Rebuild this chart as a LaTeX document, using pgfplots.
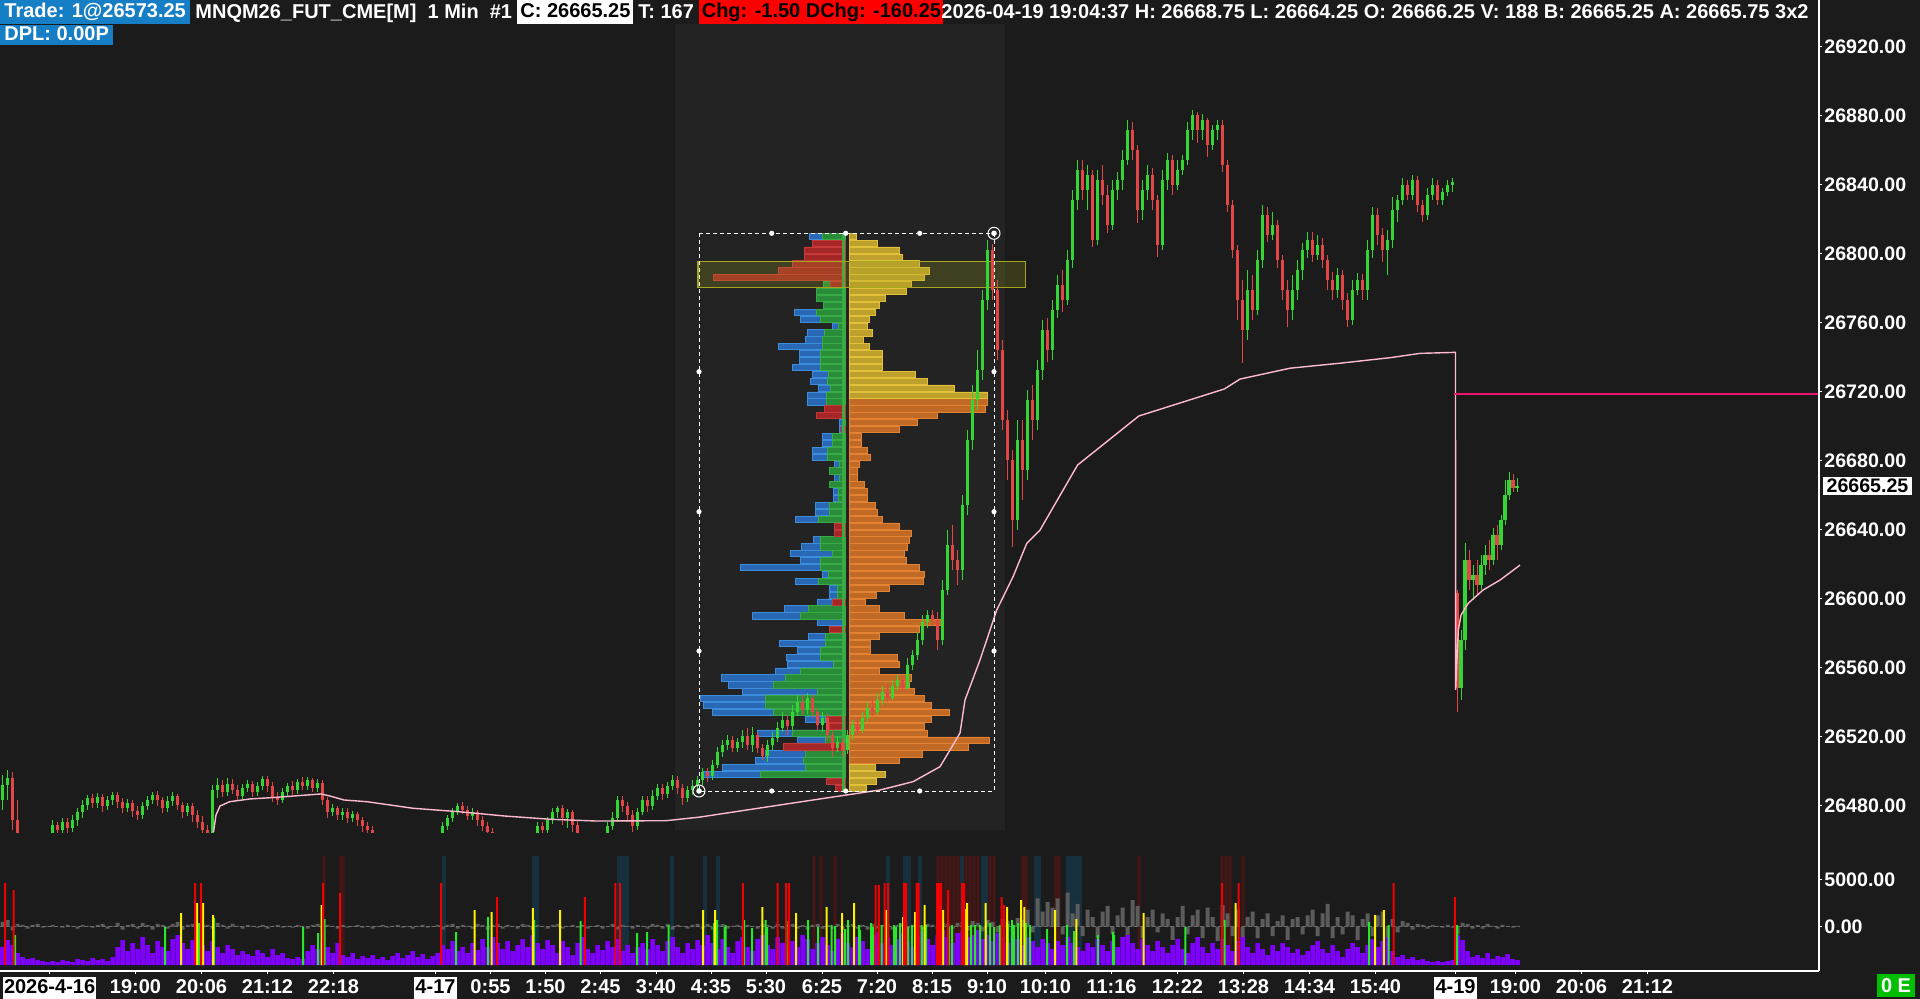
\documentclass[border=0pt]{standalone}
\usepackage{fontspec}
\setmainfont{Liberation Sans}
\usepackage{pgfplots}
\usepackage{pgfplotstable}
\pgfplotsset{compat=1.18}

\definecolor{bg}{RGB}{27,27,27}
\definecolor{shd}{RGB}{35,35,35}
\definecolor{cup}{RGB}{52,214,52}
\definecolor{cdn}{RGB}{226,70,70}
\definecolor{vwap}{RGB}{255,186,208}
\definecolor{prior}{RGB}{238,20,112}
\definecolor{pyel}{RGB}{190,160,44}
\definecolor{pyelL}{RGB}{226,192,58}
\definecolor{pora}{RGB}{192,106,38}
\definecolor{poraL}{RGB}{228,130,52}
\definecolor{pblu}{RGB}{40,104,180}
\definecolor{pbluL}{RGB}{62,140,220}
\definecolor{pgrn}{RGB}{40,140,56}
\definecolor{pgrnL}{RGB}{56,170,70}
\definecolor{pred}{RGB}{165,38,38}
\definecolor{predL}{RGB}{200,56,56}
\definecolor{vpur}{RGB}{128,0,255}
\definecolor{sred}{RGB}{240,0,0}
\definecolor{syel}{RGB}{255,240,0}
\definecolor{sgrn}{RGB}{40,230,40}
\definecolor{bred}{RGB}{68,22,22}
\definecolor{bteal}{RGB}{22,48,62}
\definecolor{dgray}{RGB}{92,92,92}
\definecolor{zgray}{RGB}{105,105,105}
\definecolor{hblue}{RGB}{22,126,196}
\definecolor{hred}{RGB}{255,0,0}
\definecolor{olive}{RGB}{165,165,30}
\definecolor{egreen}{RGB}{0,190,0}

\newcommand\lab{\bfseries\fontsize{10}{12}\selectfont}
\newcommand\plab{\bfseries\fontsize{9.8}{11}\selectfont}
\newcommand\dbox[1]{{\setlength\fboxsep{0.6pt}\colorbox{white}{\textcolor{black}{\rule[-2.4pt]{0pt}{9.8pt}#1}}}}
\newcommand\pfmt{\pgfmathprintnumber[fixed,fixed zerofill,precision=2,1000 sep={},assume math mode=true]{\tick}}

\pgfplotsset{
  pane/.style={scale only axis, width=909.5pt, xmin=0, xmax=1819,
    axis line style={draw=none}, xtick=\empty, ytick=\empty,
    scaled x ticks=false, scaled y ticks=false},
}
\tikzset{hdr/.style={anchor=north west, inner ysep=0.6pt, text height=8.2pt, text depth=2.4pt, font=\lab}}

% 1-min chart, aggregated to 5 px candles: x o h l c
\pgfplotstableread{
x o h l c
2.5 26483.2 26497.7 26477.4 26491.9
7.5 26491.9 26500.6 26483.2 26495.9
12.5 26495.9 26499.4 26465.8 26471.6
17.5 26471.6 26483.2 26454.2 26457.1
52.5 26462.9 26471.6 26460.0 26468.7
57.5 26468.7 26470.4 26461.2 26465.8
62.5 26465.8 26472.7 26462.9 26470.4
67.5 26470.4 26472.7 26463.5 26466.9
72.5 26466.9 26474.5 26464.6 26471.6
77.5 26471.6 26478.5 26468.1 26476.2
82.5 26476.2 26483.2 26472.7 26480.3
87.5 26480.3 26486.1 26477.4 26484.3
92.5 26484.3 26486.7 26478.5 26481.4
97.5 26481.4 26487.2 26478.5 26484.9
102.5 26484.9 26486.7 26476.2 26479.7
107.5 26479.7 26485.5 26477.4 26483.2
112.5 26483.2 26487.8 26480.3 26486.1
117.5 26486.1 26487.8 26478.5 26482.0
122.5 26482.0 26484.3 26475.6 26478.5
127.5 26478.5 26483.8 26476.2 26481.4
132.5 26481.4 26483.2 26473.3 26476.8
137.5 26476.8 26479.7 26471.6 26474.5
142.5 26474.5 26482.0 26472.2 26479.7
147.5 26479.7 26485.5 26477.4 26483.2
152.5 26483.2 26487.8 26480.9 26486.1
157.5 26486.1 26488.4 26479.7 26483.2
162.5 26483.2 26484.9 26475.6 26478.5
167.5 26478.5 26485.5 26476.2 26482.6
172.5 26482.6 26487.8 26479.7 26485.5
177.5 26485.5 26486.7 26477.4 26480.3
182.5 26480.3 26482.0 26472.7 26476.2
187.5 26476.2 26481.4 26473.9 26479.7
192.5 26479.7 26481.4 26470.4 26474.5
197.5 26474.5 26477.4 26466.9 26470.4
202.5 26470.4 26473.9 26461.2 26465.8
207.5 26465.8 26468.7 26454.2 26457.1
212.5 26457.1 26491.9 26454.2 26489.0
217.5 26489.0 26495.9 26484.3 26491.9
222.5 26491.9 26494.8 26484.9 26487.8
227.5 26487.8 26495.9 26485.5 26492.5
232.5 26492.5 26495.4 26486.7 26489.0
237.5 26489.0 26491.9 26483.2 26485.5
242.5 26485.5 26492.5 26483.8 26490.1
247.5 26490.1 26494.8 26487.8 26492.5
252.5 26492.5 26494.2 26484.9 26487.8
257.5 26487.8 26493.6 26485.5 26491.3
262.5 26491.3 26497.1 26489.0 26495.4
267.5 26495.4 26497.1 26487.8 26491.3
272.5 26491.3 26493.6 26482.0 26484.9
277.5 26484.9 26487.8 26480.3 26483.2
282.5 26483.2 26490.1 26481.4 26487.8
287.5 26487.8 26493.0 26485.5 26491.3
292.5 26491.3 26494.2 26486.1 26489.0
297.5 26489.0 26495.4 26486.7 26493.6
302.5 26493.6 26496.5 26489.0 26491.3
307.5 26491.3 26496.5 26489.0 26494.8
312.5 26494.8 26495.9 26487.8 26490.1
317.5 26490.1 26495.4 26487.8 26493.0
322.5 26493.0 26494.8 26480.3 26483.2
327.5 26483.2 26484.9 26472.7 26476.2
332.5 26476.2 26480.9 26473.9 26478.5
337.5 26478.5 26479.7 26471.6 26474.5
342.5 26474.5 26478.5 26471.6 26476.2
347.5 26476.2 26478.5 26469.8 26472.7
352.5 26472.7 26476.8 26470.4 26475.1
357.5 26475.1 26476.2 26468.1 26471.6
362.5 26471.6 26473.3 26464.6 26468.1
367.5 26468.1 26470.4 26462.3 26465.8
372.5 26465.8 26468.1 26458.8 26461.2
442.5 26462.9 26470.4 26461.2 26468.1
447.5 26468.1 26474.5 26465.8 26472.7
452.5 26472.7 26478.5 26470.4 26476.2
457.5 26476.2 26481.4 26474.5 26479.7
462.5 26479.7 26482.0 26475.1 26477.4
467.5 26477.4 26479.7 26471.6 26473.9
472.5 26473.9 26478.5 26471.6 26476.2
477.5 26476.2 26477.4 26468.1 26471.6
482.5 26471.6 26473.9 26465.2 26468.1
487.5 26468.1 26470.4 26461.2 26464.6
492.5 26464.6 26466.9 26457.1 26460.0
537.5 26462.9 26470.4 26461.2 26468.1
542.5 26468.1 26470.4 26462.9 26465.8
547.5 26465.8 26473.3 26463.5 26471.6
552.5 26471.6 26478.5 26469.3 26476.2
557.5 26476.2 26479.7 26472.7 26478.5
562.5 26478.5 26480.3 26468.7 26472.7
567.5 26472.7 26478.0 26466.9 26476.2
572.5 26476.2 26477.4 26464.6 26468.7
577.5 26468.7 26471.6 26460.0 26462.3
607.5 26462.9 26470.4 26460.0 26468.1
612.5 26468.1 26476.2 26465.8 26472.7
617.5 26472.7 26485.5 26470.4 26483.2
622.5 26483.2 26485.5 26476.2 26479.7
627.5 26479.7 26482.0 26470.4 26474.5
632.5 26474.5 26477.4 26464.6 26468.1
637.5 26468.1 26478.5 26465.8 26476.2
642.5 26476.2 26485.5 26474.5 26483.2
647.5 26483.2 26485.5 26476.2 26479.7
652.5 26479.7 26489.0 26477.4 26485.5
657.5 26485.5 26492.5 26483.2 26490.1
662.5 26490.1 26492.5 26483.2 26486.7
667.5 26486.7 26493.6 26484.3 26491.3
672.5 26491.3 26497.7 26489.0 26494.8
677.5 26494.8 26497.1 26486.7 26490.1
682.5 26490.1 26492.5 26480.3 26484.3
687.5 26484.3 26491.3 26482.0 26489.0
692.5 26489.0 26494.8 26486.1 26491.3
697.5 26491.3 26497.1 26489.0 26494.8
702.5 26494.8 26501.7 26491.9 26499.4
707.5 26499.4 26501.7 26493.6 26497.1
712.5 26497.1 26506.4 26494.8 26503.5
717.5 26503.5 26513.9 26501.7 26511.0
722.5 26511.0 26518.0 26508.1 26515.1
727.5 26515.1 26520.9 26512.2 26518.0
732.5 26518.0 26520.3 26511.0 26513.3
737.5 26513.3 26519.1 26511.0 26516.8
742.5 26516.8 26523.8 26513.3 26520.3
747.5 26520.3 26524.9 26512.2 26515.1
752.5 26515.1 26525.5 26511.0 26520.9
757.5 26520.9 26522.6 26510.4 26513.3
762.5 26513.3 26515.6 26506.4 26508.7
767.5 26508.7 26518.0 26505.2 26515.1
772.5 26515.1 26522.6 26512.2 26519.1
777.5 26519.1 26528.4 26516.8 26524.9
782.5 26524.9 26534.2 26522.6 26529.6
787.5 26529.6 26532.5 26520.9 26526.1
792.5 26526.1 26538.3 26523.8 26534.2
797.5 26534.2 26544.1 26531.9 26540.0
802.5 26540.0 26544.1 26532.5 26535.4
807.5 26535.4 26545.2 26533.1 26542.3
812.5 26542.3 26544.1 26530.7 26534.2
817.5 26534.2 26536.5 26523.8 26526.7
822.5 26526.7 26534.2 26522.6 26530.7
827.5 26530.7 26533.1 26518.0 26520.9
832.5 26520.9 26523.8 26508.1 26513.3
837.5 26513.3 26520.3 26511.0 26516.8
842.5 26516.8 26519.1 26508.1 26512.2
847.5 26512.2 26523.8 26509.8 26520.9
852.5 26520.9 26529.6 26518.0 26526.7
857.5 26526.7 26530.7 26520.9 26523.8
862.5 26523.8 26534.2 26522.0 26530.7
867.5 26530.7 26540.0 26528.4 26536.5
872.5 26536.5 26541.2 26531.9 26534.2
877.5 26534.2 26545.2 26532.5 26541.2
882.5 26541.2 26549.3 26538.3 26545.8
887.5 26545.8 26550.4 26540.0 26542.3
892.5 26542.3 26552.8 26541.2 26549.3
897.5 26549.3 26555.7 26547.0 26552.8
902.5 26552.8 26555.1 26545.8 26548.1
907.5 26548.1 26565.5 26547.0 26561.5
912.5 26561.5 26570.1 26558.6 26567.3
917.5 26567.3 26580.6 26564.4 26575.9
922.5 26575.9 26590.4 26573.0 26586.4
927.5 26586.4 26593.3 26582.9 26590.4
932.5 26590.4 26593.3 26584.0 26587.5
937.5 26587.5 26592.2 26570.1 26575.9
942.5 26575.9 26610.7 26573.0 26604.9
947.5 26604.9 26639.7 26602.0 26631.0
952.5 26631.0 26642.6 26616.5 26622.3
957.5 26622.3 26628.1 26607.8 26616.5
962.5 26616.5 26660.0 26610.7 26654.2
967.5 26654.2 26697.7 26648.4 26691.9
972.5 26691.9 26723.8 26686.1 26715.1
977.5 26715.1 26744.1 26709.3 26732.5
982.5 26732.5 26778.8 26726.7 26773.0
987.5 26773.0 26807.8 26767.2 26802.0
992.5 26802.0 26805.5 26773.0 26778.8
997.5 26778.8 26784.6 26738.3 26744.1
1002.5 26744.1 26749.9 26697.7 26703.5
1007.5 26703.5 26709.3 26668.7 26680.3
1012.5 26680.3 26686.1 26629.9 26645.5
1017.5 26645.5 26703.5 26639.7 26691.9
1022.5 26691.9 26703.5 26657.1 26674.5
1027.5 26674.5 26720.9 26668.7 26715.1
1032.5 26715.1 26723.8 26691.9 26703.5
1037.5 26703.5 26738.3 26697.7 26732.5
1042.5 26732.5 26761.4 26726.7 26755.7
1047.5 26755.7 26762.6 26737.1 26744.1
1052.5 26744.1 26773.0 26738.3 26767.2
1057.5 26767.2 26787.5 26762.6 26781.7
1062.5 26781.7 26790.4 26766.1 26773.0
1067.5 26773.0 26802.0 26770.1 26796.2
1072.5 26796.2 26836.8 26791.6 26831.0
1077.5 26831.0 26854.2 26825.2 26848.4
1082.5 26848.4 26854.2 26831.0 26836.8
1087.5 26836.8 26851.3 26825.2 26845.5
1092.5 26845.5 26848.4 26803.8 26807.8
1097.5 26807.8 26848.4 26804.9 26842.6
1102.5 26842.6 26851.3 26828.1 26833.9
1107.5 26833.9 26839.7 26811.9 26816.5
1112.5 26816.5 26842.6 26813.6 26836.8
1117.5 26836.8 26847.2 26831.0 26842.6
1122.5 26842.6 26860.0 26836.8 26854.2
1127.5 26854.2 26877.4 26851.3 26871.6
1132.5 26871.6 26876.2 26854.2 26860.0
1137.5 26860.0 26862.9 26817.7 26825.2
1142.5 26825.2 26842.6 26819.4 26836.8
1147.5 26836.8 26851.3 26831.0 26845.5
1152.5 26845.5 26849.6 26825.2 26831.0
1157.5 26831.0 26833.9 26797.9 26804.9
1162.5 26804.9 26848.4 26802.0 26842.6
1167.5 26842.6 26858.3 26836.8 26854.2
1172.5 26854.2 26857.1 26833.9 26839.7
1177.5 26839.7 26854.2 26836.8 26848.4
1182.5 26848.4 26857.1 26845.5 26854.2
1187.5 26854.2 26876.2 26851.3 26871.6
1192.5 26871.6 26883.2 26865.8 26880.3
1197.5 26880.3 26882.0 26864.1 26871.6
1202.5 26871.6 26880.9 26865.8 26877.4
1207.5 26877.4 26878.6 26856.0 26862.9
1212.5 26862.9 26874.5 26860.0 26871.6
1217.5 26871.6 26877.4 26865.8 26874.5
1222.5 26874.5 26877.4 26847.2 26851.3
1227.5 26851.3 26854.2 26824.1 26828.1
1232.5 26828.1 26831.0 26797.4 26802.0
1237.5 26802.0 26804.9 26761.4 26773.0
1242.5 26773.0 26784.6 26736.5 26755.7
1247.5 26755.7 26790.4 26749.9 26778.8
1252.5 26778.8 26787.5 26761.4 26767.2
1257.5 26767.2 26802.0 26764.4 26796.2
1262.5 26796.2 26828.1 26791.6 26822.3
1267.5 26822.3 26826.9 26806.7 26810.7
1272.5 26810.7 26824.1 26807.8 26816.5
1277.5 26816.5 26819.4 26791.6 26796.2
1282.5 26796.2 26799.1 26773.0 26778.8
1287.5 26778.8 26784.6 26757.4 26767.2
1292.5 26767.2 26787.5 26761.4 26778.8
1297.5 26778.8 26796.2 26773.0 26790.4
1302.5 26790.4 26806.1 26784.6 26802.0
1307.5 26802.0 26812.5 26797.4 26807.8
1312.5 26807.8 26812.5 26795.1 26799.1
1317.5 26799.1 26810.7 26796.2 26804.9
1322.5 26804.9 26809.0 26791.6 26796.2
1327.5 26796.2 26799.1 26778.8 26784.6
1332.5 26784.6 26789.3 26773.0 26778.8
1337.5 26778.8 26791.6 26774.2 26787.5
1342.5 26787.5 26790.4 26767.2 26773.0
1347.5 26773.0 26777.1 26757.4 26761.4
1352.5 26761.4 26784.6 26758.6 26778.8
1357.5 26778.8 26788.7 26775.9 26784.6
1362.5 26784.6 26788.1 26773.0 26778.8
1367.5 26778.8 26807.8 26773.0 26802.0
1372.5 26802.0 26826.9 26797.4 26822.3
1377.5 26822.3 26826.4 26804.9 26810.7
1382.5 26810.7 26814.8 26795.1 26802.0
1387.5 26802.0 26813.6 26787.5 26807.8
1392.5 26807.8 26832.8 26803.2 26825.2
1397.5 26825.2 26833.9 26818.3 26831.0
1402.5 26831.0 26843.8 26828.1 26839.7
1407.5 26839.7 26842.6 26831.0 26833.9
1412.5 26833.9 26845.5 26831.0 26842.6
1417.5 26842.6 26844.9 26824.1 26828.1
1422.5 26828.1 26831.0 26818.3 26822.3
1427.5 26822.3 26838.0 26819.4 26833.9
1432.5 26833.9 26843.8 26831.0 26839.7
1437.5 26839.7 26842.6 26828.1 26831.0
1442.5 26831.0 26838.0 26828.1 26835.6
1447.5 26835.6 26842.6 26833.3 26839.7
1452.5 26839.7 26843.8 26835.6 26841.4
1457 26603.2 26604.9 26534.2 26548.1
1461 26548.1 26581.7 26541.2 26575.9
1465 26575.9 26632.2 26570.1 26622.3
1469 26622.3 26628.1 26604.9 26610.7
1473 26610.7 26619.4 26599.1 26613.6
1477 26613.6 26622.3 26602.0 26607.8
1481 26607.8 26625.2 26604.9 26619.4
1485 26619.4 26631.0 26613.6 26625.2
1489 26625.2 26633.9 26616.5 26622.3
1493 26622.3 26640.9 26619.4 26636.8
1497 26636.8 26642.6 26622.3 26631.0
1501 26631.0 26648.4 26628.1 26645.5
1505 26645.5 26668.7 26642.6 26660.0
1509 26660.0 26673.3 26657.1 26668.7
1513 26668.7 26672.2 26661.7 26664.0
1517 26664.0 26669.9 26661.7 26665.25
}\candles

\pgfplotstableread{
x p
213.5 26464.6
216 26474.5
220 26479.7
229.6 26482.2
250 26483.8
275.5 26484.7
321 26486.7
330 26485.5
344 26483.2
367 26482.2
413 26478.4
459 26476.4
505 26473.9
551 26472.0
597 26471.0
666 26471.2
700 26473.3
746.7 26477.4
813 26483.2
880 26489.0
913 26493.8
940 26502.5
950 26512.2
960 26522.0
965 26541.2
970 26548.9
980 26564.4
996.7 26593.3
1013 26612.6
1026.7 26631.9
1040 26639.7
1077.6 26677.4
1138.8 26705.8
1224.5 26721.5
1240 26727.2
1290 26733.5
1340 26736.4
1390 26739.6
1420 26742.1
1455.5 26742.7
1455.6 26547.0
1458.3 26581.7
1461 26590.4
1468.3 26597.3
1483 26604.9
1500 26610.7
1506.7 26613.6
1520 26619.4
}\vwap

% volume profile, 4 point rows (widths in px)
\pgfplotstableread{
p w
26490 17
26494 27
26498 36
26502 26
26718 138
26722 105
26726 78
26730 66
26734 33
26738 33
26742 33
26746 20
26750 14
26754 23
26758 18
26762 20
26766 26
26770 30
26774 36
26778 57
26782 62
26786 75
26790 80
26794 70
26798 53
26802 50
26806 28
26810 7
}\profY

\pgfplotstableread{
p w
26506 50
26510 73
26514 119
26518 140
26522 78
26526 75
26530 82
26534 100
26538 82
26542 75
26546 65
26550 60
26554 62
26558 30
26562 50
26566 48
26570 21
26574 21
26578 30
26582 70
26586 92
26590 55
26594 30
26598 16
26602 27
26606 40
26610 74
26614 75
26618 70
26622 57
26626 55
26630 58
26634 60
26638 62
26642 50
26646 33
26650 28
26654 26
26658 18
26662 18
26666 15
26670 8
26674 8
26678 10
26682 21
26686 18
26690 12
26694 12
26698 50
26702 68
26706 88
26710 136
26714 138
}\profO

\pgfplotstableread{
p b g
26498 142 85
26502 123 40
26506 90 42
26510 80 40
26518 48 20
26522 88 53
26530 40 20
26534 133 72
26538 142 80
26542 145 80
26546 103 28
26550 117 72
26554 124 60
26558 70 45
26562 58 12
26566 59 25
26570 48 25
26574 66 20
26578 37 20
26582 5 0
26586 28 0
26590 93 45
26594 61 37
26598 28 0
26602 16 8
26606 16 8
26610 50 27
26614 23 17
26618 105 25
26622 45 25
26626 55 13
26630 44 25
26634 32 25
26646 50 27
26650 30 16
26654 30 16
26658 12 7
26662 12 7
26666 12 16
26670 11 6
26674 11 16
26678 11 6
26682 33 18
26686 33 18
26690 23 13
26694 23 13
26698 6 0
26702 6 0
26714 38 19
26718 38 19
26722 27 15
26726 35 18
26730 33 17
26734 53 25
26738 46 25
26742 46 25
26746 67 23
26750 40 23
26754 38 21
26758 13 7
26762 45 25
26766 51 29
26770 7 22
26774 0 29
26778 0 29
26782 0 22
26810 36 23
}\profBG

\pgfplotstableread{
p r
26490 10
26494 19
26514 62
26526 16
26530 19
26582 16
26598 13
26638 11
26642 11
26698 4
26706 29
26710 21
26782 15
26786 132
26790 67
26794 53
26798 41
26802 41
26806 33
}\profR

% lower pane: v = volume, d = delta
\pgfplotstableread{
x v d
2.5 180 500
7.5 250 700
12.5 200 -400
17.5 120 300
22.5 80 200
27.5 60 -200
32.5 70 200
37.5 50 300
42.5 40 -100
47.5 30 100
52.5 40 200
57.5 30 0
62.5 50 -100
67.5 40 200
72.5 30 100
77.5 60 -200
82.5 50 200
87.5 40 100
92.5 70 -100
97.5 50 200
102.5 60 300
107.5 40 -200
112.5 80 100
117.5 180 400
122.5 250 -300
127.5 140 200
132.5 220 300
137.5 160 -200
142.5 280 400
147.5 200 200
152.5 120 -300
157.5 240 300
162.5 180 200
167.5 140 -200
172.5 260 300
177.5 300 500
182.5 220 -300
187.5 160 200
192.5 250 300
197.5 280 -400
202.5 200 300
207.5 140 200
212.5 240 -200
217.5 180 400
222.5 120 200
227.5 200 -200
232.5 160 300
237.5 100 100
242.5 140 -200
247.5 110 200
252.5 90 100
257.5 150 -100
262.5 120 200
267.5 80 -200
272.5 160 100
277.5 100 200
282.5 120 -100
287.5 70 100
292.5 60 -100
297.5 80 200
302.5 60 100
307.5 140 -200
312.5 200 200
317.5 160 300
322.5 240 -300
327.5 180 200
332.5 120 100
337.5 220 -200
342.5 100 200
347.5 80 -100
352.5 120 100
357.5 60 200
362.5 90 -100
367.5 70 100
372.5 100 -200
377.5 60 100
382.5 80 200
387.5 50 -100
392.5 90 100
397.5 120 200
402.5 70 -100
407.5 100 100
412.5 140 -200
417.5 80 100
422.5 110 200
427.5 60 -100
432.5 90 100
437.5 120 200
442.5 200 -300
447.5 160 200
452.5 240 300
457.5 140 -200
462.5 180 200
467.5 120 100
472.5 220 -200
477.5 150 300
482.5 260 200
487.5 180 -300
492.5 280 200
497.5 220 300
502.5 160 -200
507.5 240 200
512.5 140 100
517.5 200 -200
522.5 260 300
527.5 180 200
532.5 300 -300
537.5 220 200
542.5 160 100
547.5 250 -200
552.5 200 200
557.5 120 300
562.5 240 -200
567.5 180 100
572.5 100 200
577.5 220 -100
582.5 280 200
587.5 160 -200
592.5 120 100
597.5 200 200
602.5 150 -200
607.5 240 100
612.5 180 300
617.5 260 -300
622.5 140 200
627.5 200 100
632.5 120 -200
637.5 180 200
642.5 220 100
647.5 160 -200
652.5 260 300
657.5 200 200
662.5 140 -200
667.5 240 300
672.5 280 -300
677.5 180 200
682.5 120 100
687.5 220 -200
692.5 160 200
697.5 250 300
702.5 200 -200
707.5 300 300
712.5 220 -300
717.5 160 200
722.5 260 300
727.5 180 -200
732.5 120 100
737.5 240 200
742.5 280 -300
747.5 180 200
752.5 140 100
757.5 260 -200
762.5 300 300
767.5 200 200
772.5 160 -200
777.5 280 300
782.5 220 -200
787.5 140 200
792.5 240 300
797.5 180 -200
802.5 300 200
807.5 260 -300
812.5 160 200
817.5 220 300
822.5 280 -200
827.5 200 200
832.5 140 -200
837.5 260 300
842.5 320 -300
847.5 220 200
852.5 180 300
857.5 280 -200
862.5 240 200
867.5 160 -300
872.5 300 300
877.5 330 -200
882.5 220 200
887.5 280 300
892.5 200 -300
897.5 260 200
902.5 320 300
907.5 240 -200
912.5 180 200
917.5 300 400
922.5 340 -300
927.5 260 300
932.5 200 200
937.5 300 -300
942.5 350 400
947.5 280 300
952.5 220 -200
957.5 320 400
962.5 340 500
967.5 280 -400
972.5 300 600
977.5 350 400
982.5 260 -500
987.5 300 700
992.5 240 500
997.5 320 -600
1002.5 280 800
1007.5 220 600
1012.5 300 -500
1017.5 260 900
1022.5 200 700
1027.5 280 1800
1032.5 240 -600
1037.5 180 3000
1042.5 260 1600
1047.5 220 2600
1052.5 160 2000
1057.5 240 3000
1062.5 200 -800
1067.5 280 3600
1072.5 220 1400
1077.5 180 2400
1082.5 140 -1000
1087.5 220 1800
1092.5 180 1000
1097.5 260 -1200
1102.5 200 1600
1107.5 140 2200
1112.5 240 -800
1117.5 180 1200
1122.5 280 2000
1127.5 300 -1000
1132.5 220 2800
1137.5 160 2200
1142.5 260 -1200
1147.5 200 1000
1152.5 140 1800
1157.5 240 -600
1162.5 180 1400
1167.5 120 800
1172.5 200 -1400
1177.5 260 1000
1182.5 160 2200
1187.5 120 -800
1192.5 220 1200
1197.5 280 1800
1202.5 180 -1200
1207.5 120 2000
1212.5 220 1000
1217.5 160 -1500
1222.5 260 2300
1227.5 200 1400
1232.5 140 -1000
1237.5 240 1800
1242.5 280 -1300
1247.5 180 1000
1252.5 120 1600
1257.5 220 -1200
1262.5 160 800
1267.5 100 1400
1272.5 200 -1000
1277.5 140 600
1282.5 220 1200
1287.5 180 -1400
1292.5 120 800
1297.5 160 1000
1302.5 100 -800
1307.5 140 1200
1312.5 200 1800
1317.5 240 -1000
1322.5 160 1400
1327.5 120 2400
1332.5 200 -1200
1337.5 140 1000
1342.5 80 -800
1347.5 160 1600
1352.5 220 1200
1357.5 180 -1400
1362.5 120 800
1367.5 200 1400
1372.5 260 -1000
1377.5 180 1200
1382.5 240 1600
1387.5 280 -1200
1392.5 140 800
1397.5 80 -600
1402.5 100 600
1407.5 60 400
1412.5 80 -300
1417.5 50 300
1422.5 60 200
1427.5 40 -200
1432.5 30 200
1437.5 40 100
1442.5 30 -100
1447.5 40 200
1452.5 50 -100
1457.5 300 -800
1462.5 250 400
1467.5 140 300
1472.5 80 -200
1477.5 100 200
1482.5 70 -200
1487.5 120 300
1492.5 60 100
1497.5 90 -200
1502.5 80 200
1507.5 110 100
1512.5 60 -100
1517.5 50 100
}\vol

\pgfplotstableread{
x v
5 820
13.5 750
195 820
201 820
323 820
340 720
441 820
497 680
584.8 680
615.4 820
620 820
742.8 820
777.7 820
786 820
789 820
875.5 800
878.8 800
884.5 820
888 820
904 820
906 820
916.7 820
918.6 820
937 820
939 820
941 820
948 750
962 820
964 820
1001.6 680
1004 600
1222 820
1238.6 820
1393.6 820
1454.8 680
}\spR

\pgfplotstableread{
x v
181 520
197 620
203 620
213 500
321.5 600
474.6 550
491.7 530
532.8 570
560 550
703 550
715 550
762.4 580
796 520
826.7 580
842 520
854 620
886 550
903 480
915 530
924.7 600
943 550
965 560
967 620
985.7 620
1007 580
1021.2 650
1024.3 580
1055 550
1076.4 460
1143.7 520
1235.6 620
1375 500
1383.8 550
}\spY

\pgfplotstableread{
x v
15 300
165 380
199 420
214 470
303 380
318 320
324.5 460
456 330
488 480
534 450
580.5 440
637 320
647 330
668.7 400
714 420
717 450
724.5 380
725.7 400
744 450
752 370
765.5 450
767 380
786.5 440
808 450
818 380
831.6 400
835 390
845 360
848 450
859 400
860 350
871 420
873 380
881.6 400
894 400
896 380
900 420
903 400
906 420
908 380
912 400
921.6 400
922 380
926 400
941 360
949 380
952 400
967 420
971 400
975 400
980 400
986 440
990 420
994 380
999.8 400
1004 430
1008 410
1012 450
1014 400
1018 420
1026 420
1030 400
1047 360
1067 400
1074 340
1097.8 300
1113 330
1114 300
1185.4 380
1224.5 450
1369 430
1388.7 400
1457.2 400
}\spG

\pgfplotstableread{
x v
324 1090
341 1090
343 1090
814 1090
821 1090
835 1090
938 1090
942 1090
946 1090
950 1090
954 1090
958 1090
966 1090
970 1090
974 1090
978 1090
990 1090
994 1090
1023 1090
1026 1090
1056 1090
1059 1090
1139 1090
1222 1090
1226 1090
1230 1090
1243 1090
}\bandR

\pgfplotstableread{
x v
444 1090
534 1090
537 1090
619 1090
623 1090
627 1090
672 1090
705 1090
718 1090
888 1090
905 1090
909 1090
920 1090
962 1090
983 1090
986 1090
1036 1090
1039 1090
1068 1090
1072 1090
1076 1090
1080 1090
}\bandT

\begin{document}
\begin{tikzpicture}
\useasboundingbox (0,0) rectangle (960pt,-499.5pt);
\fill[bg] (0,0) rectangle (960pt,-499.5pt);
\fill[shd] (337.5pt,-12.25pt) rectangle (502.5pt,-415pt);

% volume profile, left half (bid side)
\begin{axis}[hide axis, scale only axis, width=909.5pt, height=416pt,
  at={(0pt,0pt)}, anchor=north west, xmin=-845, xmax=974,
  ymin=26464.64, ymax=26946.96, clip=false]
\addplot[xbar, bar width=3.1pt, bar shift=0pt, fill=pblu, draw=pbluL, line width=0.3pt]
  table[x expr=-\thisrow{b}, y=p] {\profBG};
\addplot[xbar, bar width=3.1pt, bar shift=0pt, fill=pgrn, draw=pgrnL, line width=0.3pt]
  table[x expr=-\thisrow{g}, y=p] {\profBG};
\addplot[xbar, bar width=3.1pt, bar shift=0pt, fill=pred, draw=predL, line width=0.3pt]
  table[x expr=-\thisrow{r}, y=p] {\profR};
\draw[pgrnL, line width=1.6pt] (axis cs:-1.7,26488.4) -- (axis cs:-1.7,26811.7);
\end{axis}

% volume profile, right half (ask side)
\begin{axis}[hide axis, scale only axis, width=909.5pt, height=416pt,
  at={(0pt,0pt)}, anchor=north west, xmin=-849.3, xmax=969.7,
  ymin=26464.64, ymax=26946.96, clip=false]
\addplot[xbar, bar width=3.1pt, bar shift=0pt, fill=pora, draw=poraL, line width=0.3pt]
  table[x=w, y=p] {\profO};
\addplot[xbar, bar width=3.1pt, bar shift=0pt, fill=pyel, draw=pyelL, line width=0.3pt]
  table[x=w, y=p] {\profY};
\end{axis}

% price pane
\begin{axis}[pane, at={(0pt,0pt)}, anchor=north west, height=416pt,
  ymin=26464.64, ymax=26946.96,
  ytick={26480,26520,...,26920}, ytick pos=right, yticklabel pos=right,
  tick align=outside, major tick length=1.5pt,
  tick style={white, line width=0.5pt},
  yticklabel style={text=white, font=\plab, anchor=west, inner sep=0pt, xshift=1pt},
  yticklabel={\pfmt}]
\filldraw[fill=olive, fill opacity=0.22, draw=olive, line width=0.6pt]
  (axis cs:698,26795.48) rectangle (axis cs:1025.7,26780.18);
% wicks
\addplot[draw=none, mark=none, forget plot,
  restrict expr to domain={\thisrow{c}-\thisrow{o}}{0:1000},
  error bars/.cd, y dir=both, y explicit, error mark=none,
  error bar style={draw=cup, solid, line width=0.5pt}]
  table[x=x, y expr={(\thisrow{h}+\thisrow{l})/2}, y error expr={(\thisrow{h}-\thisrow{l})/2}] {\candles};
\addplot[draw=none, mark=none, forget plot,
  restrict expr to domain={\thisrow{c}-\thisrow{o}}{-1000:-0.001},
  error bars/.cd, y dir=both, y explicit, error mark=none,
  error bar style={draw=cdn, solid, line width=0.5pt}]
  table[x=x, y expr={(\thisrow{h}+\thisrow{l})/2}, y error expr={(\thisrow{h}-\thisrow{l})/2}] {\candles};
% bodies
\addplot[draw=none, mark=none, forget plot,
  restrict expr to domain={\thisrow{c}-\thisrow{o}}{0:1000},
  error bars/.cd, y dir=both, y explicit, error mark=none,
  error bar style={draw=cup, solid, line width=1.75pt}]
  table[x=x, y expr={(\thisrow{o}+\thisrow{c})/2}, y error expr={abs(\thisrow{c}-\thisrow{o})/2}] {\candles};
\addplot[draw=none, mark=none, forget plot,
  restrict expr to domain={\thisrow{c}-\thisrow{o}}{-1000:-0.001},
  error bars/.cd, y dir=both, y explicit, error mark=none,
  error bar style={draw=cdn, solid, line width=1.75pt}]
  table[x=x, y expr={(\thisrow{o}+\thisrow{c})/2}, y error expr={abs(\thisrow{c}-\thisrow{o})/2}] {\candles};
\addplot[vwap, line width=0.7pt, mark=none] table[x=x, y=p] {\vwap};
\addplot[prior, line width=0.8pt, mark=none] coordinates {(1454,26718.4) (1819,26718.4)};
\draw[white, line width=0.5pt, dash pattern=on 2pt off 1.5pt]
  (axis cs:699,26811.71) rectangle (axis cs:994,26488.41);
\fill[white] (axis cs:771.7,26811.71) circle (1.3pt);
\fill[white] (axis cs:845.7,26811.71) circle (1.3pt);
\fill[white] (axis cs:919.7,26811.71) circle (1.3pt);
\fill[white] (axis cs:771.7,26488.41) circle (1.3pt);
\fill[white] (axis cs:845.7,26488.41) circle (1.3pt);
\fill[white] (axis cs:919.7,26488.41) circle (1.3pt);
\fill[white] (axis cs:699,26731.48) circle (1.3pt);
\fill[white] (axis cs:699,26650.32) circle (1.3pt);
\fill[white] (axis cs:699,26569.57) circle (1.3pt);
\fill[white] (axis cs:994,26731.48) circle (1.3pt);
\fill[white] (axis cs:994,26650.32) circle (1.3pt);
\fill[white] (axis cs:994,26569.57) circle (1.3pt);
\draw[white, line width=0.5pt] (axis cs:994,26811.71) circle (3pt);
\fill[white] (axis cs:994,26811.71) circle (1.4pt);
\draw[white, line width=0.5pt] (axis cs:699,26488.41) circle (3pt);
\fill[white] (axis cs:699,26488.41) circle (1.4pt);
\end{axis}

% lower pane: highlight bands
\begin{axis}[pane, hide axis, at={(0pt,-485.5pt)}, anchor=south west, height=57.5pt,
  ymin=-60, ymax=1090]
\addplot[ybar, bar width=1.6pt, bar shift=0pt, fill=bred, draw=none] table[x=x, y=v] {\bandR};
\addplot[ybar, bar width=1.8pt, bar shift=0pt, fill=bteal, draw=none] table[x=x, y=v] {\bandT};
\end{axis}

% lower pane: delta histogram and its scale
\begin{axis}[pane, at={(0pt,-485.5pt)}, anchor=south west, height=57.5pt,
  ymin=-4673, ymax=7458,
  ytick={0,5000}, ytick pos=right, yticklabel pos=right,
  tick align=outside, major tick length=1.5pt,
  tick style={white, line width=0.5pt},
  yticklabel style={text=white, font=\plab, anchor=west, inner sep=0pt, xshift=1pt},
  yticklabel={\pfmt}]
\addplot[ybar, bar width=2pt, bar shift=0pt, fill=dgray, draw=none] table[x=x, y=d] {\vol};
\addplot[zgray, line width=0.6pt, dash pattern=on 2pt off 1pt, mark=none] coordinates {(0,0) (1520,0)};
\end{axis}

% lower pane: volume and spikes, time axis
\begin{axis}[pane, at={(0pt,-485.5pt)}, anchor=south west, height=57.5pt,
  ymin=-60, ymax=1090,
  xtick={49.6,135.5,201.5,267.5,333.5,435.5,490.5,545.5,600.5,656,711,766,822,877,932,987,
    1045.5,1111.5,1177.5,1243.5,1309.5,1375.5,1455.5,1515.5,1581.5,1647.5},
  xticklabels={{\dbox{2026-4-16}},19:00,20:06,21:12,22:18,{\dbox{4-17}},0:55,1:50,2:45,3:40,
    4:35,5:30,6:25,7:20,8:15,9:10,10:10,11:16,12:22,13:28,14:34,15:40,{\dbox{4-19}},19:00,20:06,21:12},
  xtick pos=bottom, tick align=outside, major tick length=1.5pt,
  tick style={white, line width=0.5pt},
  xticklabel style={text=white, font=\lab, anchor=base, inner sep=0pt, yshift=-9.5pt}]
\addplot[ybar, bar width=2.25pt, bar shift=0pt, fill=vpur, draw=none] table[x=x, y=v] {\vol};
\addplot[ybar, bar width=1pt, bar shift=0pt, fill=sgrn, draw=none] table[x=x, y=v] {\spG};
\addplot[ybar, bar width=1pt, bar shift=0pt, fill=syel, draw=none] table[x=x, y=v] {\spY};
\addplot[ybar, bar width=1pt, bar shift=0pt, fill=sred, draw=none] table[x=x, y=v] {\spR};
\end{axis}

% axis lines
\draw[white, line width=0.6pt] (909.5pt,0pt) -- (909.5pt,-485.5pt);
\draw[white, line width=0.6pt] (0pt,-485.5pt) -- (909.5pt,-485.5pt);

% header
\node[hdr, fill=hblue, text=white, inner xsep=2pt] at (0pt,0pt) {Trade: 1@26573.25};
\node[hdr, text=white, inner xsep=0pt] at (97.5pt,-0.4pt) {MNQM26\_FUT\_CME[M]\ \ 1 Min\ \ \#1};
\node[hdr, fill=white, text=black, inner xsep=1.5pt] at (258.5pt,0pt) {C: 26665.25};
\node[hdr, text=white, inner xsep=0pt] at (319pt,-0.4pt) {T: 167};
\node[hdr, fill=hred, text=black, inner xsep=1.2pt] at (349.5pt,0pt) {Chg: -1.50};
\node[hdr, fill=hred, text=black, inner xsep=1.2pt] at (401.5pt,0pt) {DChg: -160.25};
\node[hdr, text=white, inner xsep=0pt] at (470.5pt,-0.4pt)
  {2026-04-19 19:04:37 H: 26668.75 L: 26664.25 O: 26666.25 V: 188 B: 26665.25 A: 26665.75 3x2};
\node[anchor=north west, fill=hblue, text=white, inner xsep=2pt, inner ysep=0.2pt,
  text height=7.6pt, text depth=2.2pt, font=\lab] at (0pt,-12.25pt) {DPL: 0.00P};

% last price tag and status box
\node[anchor=west, fill=white, text=black, inner xsep=1.6pt, inner ysep=1.2pt, font=\plab]
  at (911.5pt,-243pt) {26665.25};
\node[fill=egreen, text=white, minimum width=19.3pt, minimum height=11.5pt, inner sep=0pt, font=\lab]
  at (948pt,-492.75pt) {0 E};
\end{tikzpicture}
\end{document}
